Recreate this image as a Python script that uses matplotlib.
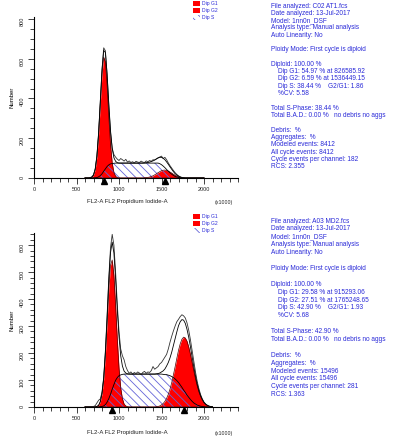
import numpy as np
import matplotlib
matplotlib.use("Agg")
import matplotlib.pyplot as plt
from matplotlib.patches import Patch
from matplotlib.ticker import MultipleLocator
from matplotlib.transforms import offset_copy

# === Data (counts per channel) ===
top_x = np.arange(600, 2001, 20)
top_g1 = [0, 0, 0, 1, 4, 14, 43, 107, 219, 372,
          522, 608, 585, 466, 308, 169, 76, 28, 9, 2,
          0, 0, 0, 0, 0, 0, 0, 0, 0, 0,
          0, 0, 0, 0, 0, 0, 0, 0, 0, 0,
          0, 0, 0, 0, 0, 0, 0, 0, 0, 0,
          0, 0, 0, 0, 0, 0, 0, 0, 0, 0,
          0, 0, 0, 0, 0, 0, 0, 0, 0, 0,
          0]
top_g2 = [0, 0, 0, 0, 0, 0, 0, 0, 0, 0,
          0, 0, 0, 0, 0, 0, 0, 0, 0, 0,
          0, 0, 0, 0, 0, 0, 0, 0, 0, 0,
          0, 0, 0, 0, 0, 1, 2, 3, 5, 8,
          11, 16, 21, 27, 32, 37, 39, 40, 38, 35,
          30, 25, 19, 14, 10, 6, 4, 2, 1, 0,
          0, 0, 0, 0, 0, 0, 0, 0, 0, 0,
          0]
top_s = [0, 0, 0, 0, 0, 0, 1, 2, 6, 12,
         21, 34, 46, 58, 66, 71, 73, 74, 75, 75,
         75, 75, 75, 75, 75, 75, 75, 75, 75, 75,
         75, 75, 75, 75, 75, 75, 75, 75, 75, 75,
         75, 75, 75, 75, 72, 67, 60, 52, 43, 34,
         26, 19, 13, 8, 5, 3, 1, 0, 0, 0,
         0, 0, 0, 0, 0, 0, 0, 0, 0, 0,
         0]
top_data = [0, 0, 0, 2, 6, 16, 45, 112, 228, 385,
            545, 655, 640, 520, 365, 230, 150, 118, 105, 95,
            88, 98, 92, 85, 94, 80, 86, 78, 82, 76,
            84, 80, 78, 85, 80, 78, 86, 82, 88, 84,
            92, 90, 96, 100, 106, 110, 98, 104, 92, 76,
            62, 50, 38, 27, 18, 11, 6, 3, 1, 0,
            0, 0, 0, 0, 0, 0, 0, 0, 0, 0,
            0]
top_peaks = [826, 1536]

bot_x = np.arange(600, 2101, 20)
bot_g1 = [0, 0, 0, 0, 0, 0, 0, 2, 6, 19,
          48, 103, 194, 312, 437, 525, 545, 488, 377, 251,
          145, 71, 31, 11, 4, 1, 0, 0, 0, 0,
          0, 0, 0, 0, 0, 0, 0, 0, 0, 0,
          0, 0, 0, 0, 0, 0, 0, 0, 0, 0,
          0, 0, 0, 0, 0, 0, 0, 0, 0, 0,
          0, 0, 0, 0, 0, 0, 0, 0, 0, 0,
          0, 0, 0, 0, 0, 0]
bot_g2 = [0, 0, 0, 0, 0, 0, 0, 0, 0, 0,
          0, 0, 0, 0, 0, 0, 0, 0, 0, 0,
          0, 0, 0, 0, 0, 0, 0, 0, 0, 0,
          0, 0, 0, 0, 0, 0, 0, 0, 0, 0,
          0, 0, 1, 2, 4, 8, 13, 21, 32, 47,
          66, 90, 119, 149, 180, 210, 234, 251, 259, 256,
          244, 223, 196, 165, 134, 104, 78, 56, 39, 26,
          16, 10, 6, 3, 2, 1]
bot_s = [0, 0, 0, 0, 0, 0, 0, 0, 0, 1,
         2, 4, 9, 18, 31, 47, 66, 83, 99, 109,
         116, 119, 121, 122, 122, 122, 122, 122, 122, 122,
         122, 122, 122, 122, 122, 122, 122, 122, 122, 122,
         122, 122, 122, 122, 122, 122, 121, 120, 120, 118,
         116, 113, 109, 104, 98, 91, 82, 73, 63, 54,
         44, 36, 28, 21, 15, 11, 7, 5, 3, 2,
         1, 0, 0, 0, 0, 0]
bot_data = [0, 0, 0, 0, 0, 2, 5, 15, 25, 30,
            55, 110, 210, 340, 480, 590, 640, 600, 500, 380,
            280, 215, 190, 175, 150, 135, 125, 130, 122, 128,
            124, 130, 126, 120, 128, 132, 125, 130, 128, 135,
            150, 140, 145, 150, 160, 165, 175, 185, 195, 215,
            240, 262, 282, 300, 316, 325, 335, 342, 338, 330,
            312, 285, 250, 210, 170, 130, 95, 68, 46, 30,
            18, 11, 6, 3, 1, 0]
bot_peaks = [915, 1765]

legend_labels = ["Dip G1", "Dip G2", "Dip S"]

top_text = [
    "File analyzed: C02 AT1.fcs",
    "Date analyzed: 13-Jul-2017",
    "Model: 1nn0n_DSF",
    "Analysis type: Manual analysis",
    "Auto Linearity: No",
    "",
    "Ploidy Mode: First cycle is diploid",
    "",
    "Diploid: 100.00 %",
    "    Dip G1: 54.97 % at 826585.92",
    "    Dip G2: 6.59 % at 1536449.15",
    "    Dip S: 38.44 %    G2/G1: 1.86",
    "    %CV: 5.58",
    "",
    "Total S-Phase: 38.44 %",
    "Total B.A.D.: 0.00 %   no debris no aggs",
    "",
    "Debris:  %",
    "Aggregates:  %",
    "Modeled events: 8412",
    "All cycle events: 8412",
    "Cycle events per channel: 182",
    "RCS: 2.355",
]
bot_text = [
    "File analyzed: A03 MD2.fcs",
    "Date analyzed: 13-Jul-2017",
    "Model: 1nn0n_DSF",
    "Analysis type: Manual analysis",
    "Auto Linearity: No",
    "",
    "Ploidy Mode: First cycle is diploid",
    "",
    "Diploid: 100.00 %",
    "    Dip G1: 29.58 % at 915293.06",
    "    Dip G2: 27.51 % at 1765248.65",
    "    Dip S: 42.90 %    G2/G1: 1.93",
    "    %CV: 5.68",
    "",
    "Total S-Phase: 42.90 %",
    "Total B.A.D.: 0.00 %   no debris no aggs",
    "",
    "Debris:  %",
    "Aggregates:  %",
    "Modeled events: 15496",
    "All cycle events: 15496",
    "Cycle events per channel: 281",
    "RCS: 1.363",
]

# === Style ===
RED = "#ff0000"
HATCH_BLUE = "#6565d8"
TEXT_BLUE = "#2a2ad8"
HATCH = "\\\\\\\\"

plt.rcParams["font.family"] = ["Liberation Sans", "DejaVu Sans"]
plt.rcParams["hatch.linewidth"] = 0.6
plt.rcParams["hatch.color"] = HATCH_BLUE

W, H = 394, 436
fig = plt.figure(figsize=(W / 100, H / 100), dpi=100)


def fx(px):
    return px / W


def fy(py):
    return 1 - py / H


def draw_panel(ax, x, g1, g2, s, data, peaks, ymax, ymajor, yminor):
    g1, g2, s = np.array(g1), np.array(g2), np.array(s)
    fit = g1 + g2 + s

    ax.fill_between(x, g1, color=RED, lw=0, zorder=2)
    ax.fill_between(x, g2, color=RED, lw=0, zorder=2)
    ax.fill_between(x, s, facecolor="none", edgecolor=HATCH_BLUE,
                    hatch=HATCH, lw=0, zorder=3)
    ax.plot(x, g1, color="#500000", lw=0.5, zorder=4)
    ax.plot(x, g2, color="#500000", lw=0.5, zorder=4)
    ax.plot(x, s, color="k", lw=0.6, zorder=4)
    ax.plot(x, data, color="#333333", lw=0.6, zorder=5)
    ax.plot(x, fit, color="k", lw=0.6, zorder=5)

    # peak markers just under the axis
    ax.plot(peaks, [0] * len(peaks), ls="none", marker="^", ms=4.3, color="k",
            clip_on=False, zorder=6,
            transform=offset_copy(ax.transData, fig=fig, y=-3, units="dots"))

    ax.set_xlim(0, 2400)
    ax.set_ylim(0, ymax)
    ax.xaxis.set_major_locator(MultipleLocator(500))
    ax.xaxis.set_minor_locator(MultipleLocator(100))
    ax.yaxis.set_major_locator(MultipleLocator(ymajor))
    ax.yaxis.set_minor_locator(MultipleLocator(yminor))
    ax.set_xticks([0, 500, 1000, 1500, 2000])
    for side in ["top", "right"]:
        ax.spines[side].set_visible(False)
    for side in ["left", "bottom"]:
        ax.spines[side].set_linewidth(0.8)
    ax.tick_params(which="both", direction="out", width=0.6, labelsize=4,
                   colors="#222222", pad=2.5)
    ax.tick_params(which="major", length=4)
    ax.tick_params(which="minor", length=3)
    ax.tick_params(axis="y", labelrotation=90)
    ax.set_ylabel("Number", fontsize=4.3, labelpad=4)

    handles = [Patch(facecolor=RED, edgecolor="none"),
               Patch(facecolor=RED, edgecolor="none"),
               Patch(facecolor="white", edgecolor=HATCH_BLUE, hatch=HATCH, lw=0)]
    return handles


ax_top = fig.add_axes([fx(34), fy(178), (238 - 34) / W, (178 - 17) / H])
h = draw_panel(ax_top, top_x, top_g1, top_g2, top_s, top_data, top_peaks, 810, 200, 50)
ax_top.legend(h, legend_labels, loc="upper left", bbox_to_anchor=(fx(193), fy(1)),
              bbox_transform=fig.transFigure, frameon=False, fontsize=3.6,
              handlelength=1.3, handleheight=1.3, labelspacing=0.3,
              handletextpad=0.5, borderpad=0, borderaxespad=0, labelcolor=TEXT_BLUE)

ax_bot = fig.add_axes([fx(34), fy(407), (238 - 34) / W, (407 - 233) / H])
h = draw_panel(ax_bot, bot_x, bot_g1, bot_g2, bot_s, bot_data, bot_peaks, 645, 100, 20)
ax_bot.legend(h, legend_labels, loc="upper left", bbox_to_anchor=(fx(193), fy(214)),
              bbox_transform=fig.transFigure, frameon=False, fontsize=3.6,
              handlelength=1.3, handleheight=1.3, labelspacing=0.3,
              handletextpad=0.5, borderpad=0, borderaxespad=0, labelcolor=TEXT_BLUE)

# axis titles
for y_lab in (201, 432):
    fig.text(fx(127), fy(y_lab), "FL2-A FL2 Propidium Iodide-A", fontsize=4.3,
             ha="center", va="center", color="#222222")
    fig.text(fx(224), fy(y_lab + 1), "(x1000)", fontsize=3.8,
             ha="center", va="center", color="#222222")

# report text blocks
for lines, y0, step in ((top_text, 6, 7.3), (bot_text, 221, 7.9)):
    for i, line in enumerate(lines):
        if line:
            fig.text(fx(271), fy(y0 + i * step), line, fontsize=4.7,
                     color=TEXT_BLUE, ha="left", va="center")

fig.savefig("out.png", dpi=100)
